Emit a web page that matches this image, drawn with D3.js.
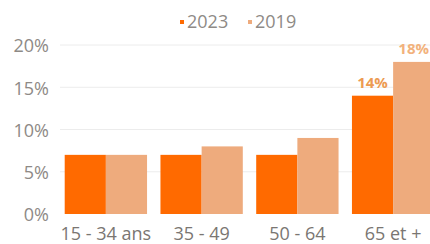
<!DOCTYPE html>
<html>
<head>
<meta charset="utf-8">
<script src="https://cdn.jsdelivr.net/npm/d3@7"></script>
<style>
  body { margin: 0; background: #fff; }
  svg { display: block; font-family: "Open Sans", sans-serif; }
</style>
</head>
<body>
<div id="chart"></div>
<script>
var categories = ["15 - 34 ans", "35 - 49", "50 - 64", "65 et +"];
var seriesNames = ["2023", "2019"];
var values2023 = [7, 7, 7, 14];
var values2019 = [7, 8, 9, 18];
var yTicks = [0, 5, 10, 15, 20];
// only the last group carries value labels
var labelled = ["65 et +"];

var width = 430, height = 244;
var colors = {"2023": "#ff6a00", "2019": "#eeab7d"};
var labelColors = {"2023": "#ec9b52", "2019": "#f2b27c"};

var svg = d3.select("#chart").append("svg")
    .attr("width", width)
    .attr("height", height);

var x = d3.scaleBand()
    .domain(categories)
    .range([58, 441])
    .paddingInner(0.14)
    .paddingOuter(0.07);

var xs = d3.scaleBand()
    .domain(seriesNames)
    .range([0, x.bandwidth()]);

var y = d3.scaleLinear()
    .domain([0, 20])
    .range([214, 45]);

// gridlines
svg.append("g").selectAll("line")
    .data(yTicks.slice(1))
    .enter().append("line")
    .attr("x1", 60)
    .attr("x2", width)
    .attr("y1", function(d) { return y(d); })
    .attr("y2", function(d) { return y(d); })
    .style("stroke", "#ececec")
    .style("stroke-width", "1px");

// y labels
svg.append("g").selectAll("text")
    .data(yTicks)
    .enter().append("text")
    .attr("x", 49)
    .attr("y", function(d) { return y(d) + 1; })
    .attr("dy", ".35em")
    .attr("text-anchor", "end")
    .style("font-size", "18px")
    .style("fill", "#8e8a86")
    .text(function(d) { return d + "%"; });

var rows = categories.map(function(c, i) {
    return {cat: c, vals: [
        {s: "2023", v: values2023[i]},
        {s: "2019", v: values2019[i]}
    ]};
});

var group = svg.append("g").selectAll(".group")
    .data(rows)
    .enter().append("g")
    .attr("class", "group")
    .attr("transform", function(d) { return "translate(" + x(d.cat) + ",0)"; });

group.selectAll("rect")
    .data(function(d) { return d.vals; })
    .enter().append("rect")
    .attr("x", function(d) { return xs(d.s); })
    .attr("y", function(d) { return y(d.v); })
    .attr("width", xs.bandwidth())
    .attr("height", function(d) { return y(0) - y(d.v); })
    .style("fill", function(d) { return colors[d.s]; });

group.filter(function(d) { return labelled.indexOf(d.cat) >= 0; })
    .selectAll(".val")
    .data(function(d) { return d.vals; })
    .enter().append("text")
    .attr("class", "val")
    .attr("x", function(d) { return xs(d.s) + xs.bandwidth() / 2; })
    .attr("y", function(d) { return y(d.v) - 8; })
    .attr("text-anchor", "middle")
    .style("font-size", "15px")
    .style("font-weight", "bold")
    .style("fill", function(d) { return labelColors[d.s]; })
    .text(function(d) { return d.v + "%"; });

// x labels
svg.append("g").selectAll("text")
    .data(categories)
    .enter().append("text")
    .attr("x", function(d) { return x(d) + x.bandwidth() / 2; })
    .attr("y", 240)
    .attr("text-anchor", "middle")
    .style("font-size", "18px")
    .style("fill", "#7a7672")
    .text(function(d) { return d; });

// legend
var legend = svg.append("g")
    .attr("transform", "translate(180,28)");

var item = legend.selectAll("g")
    .data(seriesNames)
    .enter().append("g")
    .attr("transform", function(d, i) { return "translate(" + (i * 68) + ",0)"; });

item.append("rect")
    .attr("x", 0)
    .attr("y", -8)
    .attr("width", 4)
    .attr("height", 4)
    .style("fill", function(d) { return colors[d]; });

item.append("text")
    .attr("x", 7)
    .attr("y", 0)
    .style("font-size", "18px")
    .style("fill", "#8e8a86")
    .text(function(d) { return d; });
</script>
</body>
</html>
